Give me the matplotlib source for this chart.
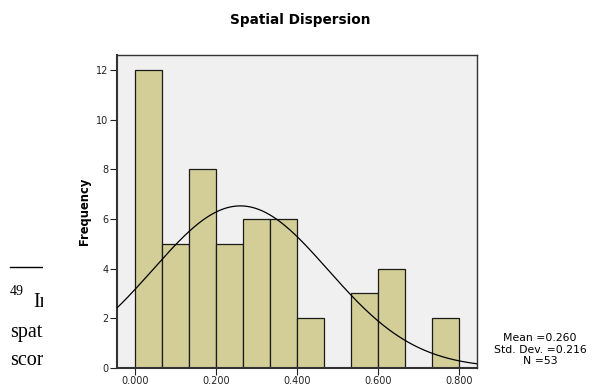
import numpy as np
import matplotlib
matplotlib.use('Agg')
import matplotlib.pyplot as plt
from matplotlib.patches import Rectangle

# histogram data
bin_width = 0.2 / 3
bin_starts = [0.0, 1, 2, 3, 4, 5, 6, 7, 8, 9, 10, 11]
counts = [12, 5, 8, 5, 6, 6, 2, 0, 3, 4, 0, 2]
mean_val = 0.260
std_val = 0.216
n_obs = 53
xtick_vals = [0.0, 0.2, 0.4, 0.6, 0.8]
ytick_vals = [0, 2, 4, 6, 8, 10, 12]

lefts = [i * bin_width for i in bin_starts]

fig = plt.figure(figsize=(6, 3.87), dpi=100)
# axes box: x 117..477 px, y 55..368 px
ax = fig.add_axes([117/600, 1 - 368/387, 360/600, 313/387])
ax.set_facecolor('#F0F0F0')

ax.bar(lefts, counts, width=bin_width, align='edge', color='#D3CE97',
       edgecolor='#1a1a1a', linewidth=0.9, zorder=2)

# fitted normal curve
xs = np.linspace(-0.05, 0.85, 300)
ys = n_obs * bin_width / (std_val * np.sqrt(2 * np.pi)) * np.exp(-0.5 * ((xs - mean_val) / std_val) ** 2)
ax.plot(xs, ys, color='black', linewidth=0.9, zorder=3)

ax.set_xlim(-0.0444, 0.844)
ax.set_ylim(0, 12.6)
ax.set_xticks(xtick_vals)
ax.set_xticklabels([f'{v:.3f}' for v in xtick_vals])
ax.set_yticks(ytick_vals)
ax.tick_params(labelsize=7, length=5, width=0.8, colors='#222222', pad=1)
for s in ax.spines.values():
    s.set_color('#333333')
    s.set_linewidth(1.0)
ax.spines['bottom'].set_linewidth(1.5)
ax.spines['left'].set_linewidth(1.5)
ax.set_ylabel('Frequency', fontsize=8.3, fontweight='bold', labelpad=4)

fig.text(0.5, 1 - 20/387, 'Spatial Dispersion', ha='center', va='center',
         fontsize=9.8, fontweight='bold')

# stats box
fig.text(540/600, 1 - 338/387, 'Mean =0.260', ha='center', va='center', fontsize=7.8)
fig.text(540/600, 1 - 350/387, 'Std. Dev. =0.216', ha='center', va='center', fontsize=7.8)
fig.text(540/600, 1 - 361/387, 'N =53', ha='center', va='center', fontsize=7.8)

# cut-off footnote fragment at the left
fig.add_artist(plt.Line2D([10/600, 43/600], [1 - 267/387, 1 - 267/387],
                          color='black', linewidth=1.0))
serif = 'Liberation Serif'
fig.text(10/600, 1 - 295/387, '49', fontsize=10, family=serif, va='baseline')
fig.text(33/600, 1 - 307/387, 'In', fontsize=14.5, family=serif, va='baseline')
fig.text(10/600, 1 - 337/387, 'spatial', fontsize=14.5, family=serif, va='baseline')
fig.text(10/600, 1 - 365/387, 'scores', fontsize=14.5, family=serif, va='baseline')
fig.add_artist(Rectangle((43/600, 1 - 380/387), 30/600, 120/387,
                         transform=fig.transFigure, facecolor='white',
                         edgecolor='none', zorder=5))

plt.savefig('out.png', dpi=100)
